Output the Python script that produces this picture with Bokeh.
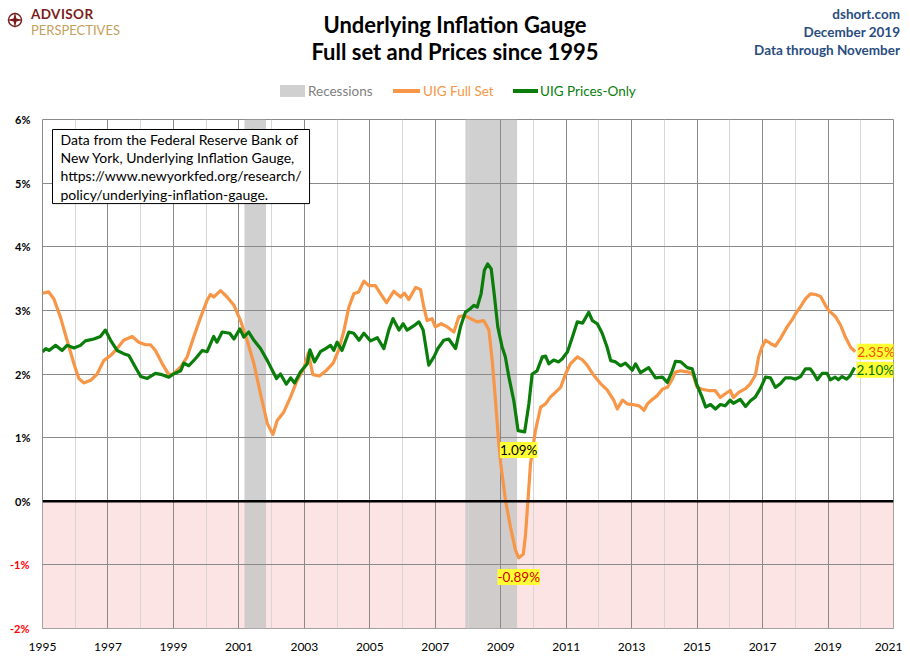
from bokeh.plotting import figure
from bokeh.layouts import column
from bokeh.models import (Range1d, FixedTicker, BoxAnnotation, Span, Label,
                          LinearAxis, Div)
from bokeh.embed import file_html
from bokeh.resources import INLINE

FONT = "Lato"

# UIG Full Set (percent, year as decimal)
full_years = [1995.00, 1995.19, 1995.35, 1995.55, 1995.75, 1995.96, 1996.11, 1996.26, 1996.47, 1996.67,
              1996.87, 1997.08, 1997.28, 1997.48, 1997.74, 1997.94, 1998.15, 1998.30, 1998.45, 1998.66,
              1998.86, 1999.00, 1999.22, 1999.42, 1999.62, 1999.83, 2000.03, 2000.13, 2000.23, 2000.44,
              2000.64, 2000.85, 2001.05, 2001.25, 2001.46, 2001.66, 2001.87, 2002.04, 2002.17, 2002.37,
              2002.58, 2002.78, 2002.98, 2003.12, 2003.26, 2003.46, 2003.68, 2003.88, 2004.05, 2004.20,
              2004.36, 2004.51, 2004.66, 2004.82, 2004.97, 2005.17, 2005.33, 2005.51, 2005.73, 2005.94,
              2006.06, 2006.19, 2006.40, 2006.55, 2006.65, 2006.75, 2006.90, 2007.00, 2007.18, 2007.37,
              2007.57, 2007.72, 2007.88, 2008.08, 2008.28, 2008.48, 2008.64, 2008.74, 2008.84, 2008.94,
              2009.00, 2009.15, 2009.30, 2009.45, 2009.55, 2009.69, 2009.76, 2009.83, 2009.91, 2010.06,
              2010.22, 2010.37, 2010.52, 2010.67, 2010.83, 2010.98, 2011.13, 2011.34, 2011.50, 2011.64,
              2011.84, 2012.05, 2012.25, 2012.46, 2012.56, 2012.72, 2012.87, 2013.03, 2013.23, 2013.38,
              2013.48, 2013.63, 2013.78, 2013.94, 2014.09, 2014.24, 2014.34, 2014.50, 2014.75, 2014.88,
              2015.00, 2015.15, 2015.35, 2015.55, 2015.71, 2015.86, 2016.01, 2016.11, 2016.27, 2016.48,
              2016.63, 2016.78, 2016.88, 2016.98, 2017.09, 2017.24, 2017.39, 2017.55, 2017.75, 2017.90,
              2018.01, 2018.16, 2018.31, 2018.46, 2018.62, 2018.77, 2018.92, 2019.02, 2019.23, 2019.38,
              2019.53, 2019.69, 2019.83]
full_vals = [3.27, 3.29, 3.18, 2.89, 2.53, 2.16, 1.93, 1.86, 1.90, 2.00,
             2.21, 2.29, 2.40, 2.53, 2.59, 2.50, 2.46, 2.46, 2.37, 2.16,
             1.99, 2.00, 2.11, 2.27, 2.58, 2.89, 3.16, 3.25, 3.21, 3.31,
             3.21, 3.08, 2.84, 2.53, 2.16, 1.69, 1.22, 1.05, 1.27, 1.40,
             1.64, 1.90, 2.08, 2.33, 1.99, 1.97, 2.06, 2.17, 2.38, 2.66,
             3.05, 3.26, 3.29, 3.46, 3.39, 3.39, 3.26, 3.12, 3.30, 3.21,
             3.27, 3.17, 3.36, 3.33, 3.05, 2.84, 2.87, 2.74, 2.79, 2.74,
             2.66, 2.90, 2.92, 2.87, 2.82, 2.84, 2.69, 2.21, 1.58, 0.91,
             0.59, 0.00, -0.41, -0.77, -0.89, -0.83, -0.51, 0.00, 0.59, 1.11,
             1.48, 1.53, 1.64, 1.71, 1.79, 2.00, 2.16, 2.27, 2.22, 2.14,
             1.98, 1.85, 1.75, 1.58, 1.45, 1.59, 1.53, 1.52, 1.50, 1.43,
             1.53, 1.60, 1.66, 1.76, 1.79, 1.92, 2.03, 2.05, 2.03, 1.98,
             1.79, 1.76, 1.74, 1.74, 1.63, 1.69, 1.74, 1.63, 1.71, 1.77,
             1.85, 1.98, 2.27, 2.42, 2.53, 2.48, 2.44, 2.56, 2.74, 2.85,
             2.95, 3.06, 3.18, 3.26, 3.25, 3.22, 3.08, 3.00, 2.90, 2.77,
             2.58, 2.42, 2.35]

# UIG Prices-Only
price_years = [1995.00, 1995.10, 1995.20, 1995.40, 1995.60, 1995.75, 1995.96, 1996.16, 1996.31, 1996.57,
               1996.77, 1996.92, 1997.08, 1997.28, 1997.48, 1997.64, 1997.80, 1998.00, 1998.20, 1998.45,
               1998.65, 1998.86, 1999.00, 1999.22, 1999.32, 1999.47, 1999.67, 1999.88, 2000.03, 2000.23,
               2000.33, 2000.49, 2000.72, 2000.85, 2001.03, 2001.15, 2001.30, 2001.46, 2001.66, 2001.87,
               2002.02, 2002.15, 2002.27, 2002.45, 2002.58, 2002.70, 2002.88, 2003.09, 2003.17, 2003.31,
               2003.49, 2003.65, 2003.80, 2003.90, 2004.00, 2004.15, 2004.36, 2004.51, 2004.67, 2004.82,
               2005.02, 2005.23, 2005.43, 2005.58, 2005.71, 2005.89, 2006.02, 2006.14, 2006.35, 2006.50,
               2006.63, 2006.80, 2006.96, 2007.08, 2007.26, 2007.41, 2007.62, 2007.78, 2007.92, 2008.08,
               2008.18, 2008.28, 2008.40, 2008.50, 2008.60, 2008.71, 2008.80, 2008.91, 2009.04, 2009.14,
               2009.25, 2009.40, 2009.53, 2009.73, 2009.86, 2009.96, 2010.11, 2010.27, 2010.37, 2010.47,
               2010.62, 2010.77, 2010.88, 2011.04, 2011.19, 2011.34, 2011.50, 2011.69, 2011.80, 2011.95,
               2012.10, 2012.25, 2012.36, 2012.51, 2012.66, 2012.81, 2013.02, 2013.12, 2013.27, 2013.52,
               2013.73, 2013.94, 2014.09, 2014.24, 2014.34, 2014.50, 2014.70, 2014.85, 2015.00, 2015.15,
               2015.26, 2015.41, 2015.56, 2015.71, 2015.86, 2016.01, 2016.11, 2016.32, 2016.48, 2016.63,
               2016.78, 2016.93, 2017.09, 2017.24, 2017.39, 2017.55, 2017.70, 2017.85, 2018.01, 2018.16,
               2018.31, 2018.46, 2018.57, 2018.67, 2018.82, 2018.97, 2019.07, 2019.22, 2019.32, 2019.42,
               2019.57, 2019.67, 2019.81]
price_vals = [2.35, 2.40, 2.37, 2.45, 2.37, 2.45, 2.41, 2.45, 2.52, 2.55,
              2.59, 2.69, 2.53, 2.37, 2.32, 2.29, 2.14, 1.96, 1.93, 2.01,
              1.99, 1.95, 2.00, 2.05, 2.17, 2.13, 2.24, 2.37, 2.35, 2.59,
              2.50, 2.66, 2.64, 2.55, 2.71, 2.58, 2.66, 2.53, 2.40, 2.21,
              2.06, 1.93, 2.00, 1.84, 1.94, 1.86, 2.03, 2.16, 2.38, 2.19,
              2.35, 2.40, 2.45, 2.37, 2.50, 2.37, 2.66, 2.64, 2.53, 2.64,
              2.52, 2.57, 2.40, 2.69, 2.87, 2.69, 2.79, 2.69, 2.76, 2.82,
              2.69, 2.14, 2.27, 2.40, 2.53, 2.55, 2.40, 2.76, 2.97, 3.03,
              3.08, 3.05, 3.26, 3.63, 3.73, 3.65, 3.26, 2.74, 2.43, 2.27,
              1.95, 1.58, 1.11, 1.09, 1.53, 2.00, 2.05, 2.27, 2.28, 2.16,
              2.22, 2.19, 2.24, 2.35, 2.58, 2.82, 2.80, 2.97, 2.84, 2.79,
              2.64, 2.42, 2.21, 2.19, 2.13, 2.17, 2.06, 2.16, 2.02, 2.10,
              1.94, 1.95, 1.87, 2.05, 2.20, 2.19, 2.10, 2.08, 1.82, 1.64,
              1.48, 1.52, 1.45, 1.52, 1.50, 1.59, 1.54, 1.60, 1.49, 1.58,
              1.64, 1.77, 1.95, 1.94, 1.79, 1.85, 1.94, 1.94, 1.92, 1.96,
              2.08, 2.08, 2.00, 1.91, 2.01, 2.01, 1.91, 1.95, 1.91, 1.96,
              1.92, 1.97, 2.10]

# NBER recessions
rec_start = [2001.17, 2007.92]
rec_end = [2001.83, 2009.50]

year_ticks = list(range(1995, 2022, 2))
year_minor = list(range(1996, 2021, 2))
pos_ticks = list(range(0, 7))
neg_ticks = [-2, -1]

ORANGE = "#f79646"
GREEN = "#0a7d0a"
GRID = "#8a8a8a"

p = figure(width=902, height=541, output_backend="svg", toolbar_location=None,
           x_range=Range1d(1995, 2021), y_range=Range1d(-2, 6), title=None,
           min_border_left=42, min_border_right=9, min_border_top=7, min_border_bottom=25)
p.background_fill_color = "white"
p.border_fill_color = "white"
p.outline_line_color = GRID

# negative zone
p.add_layout(BoxAnnotation(top=0, fill_color="#fde4e4", fill_alpha=1.0,
                           line_color=None, level="image"))

p.quad(left=rec_start, right=rec_end, bottom=-2, top=6,
       fill_color="#c8c8c8", fill_alpha=0.85, line_color=None, level="underlay")

p.xaxis.ticker = FixedTicker(ticks=year_ticks, minor_ticks=year_minor)
p.yaxis.ticker = FixedTicker(ticks=pos_ticks)
p.xgrid.grid_line_color = GRID
p.xgrid.minor_grid_line_color = "#d6d6d6"
p.ygrid.ticker = FixedTicker(ticks=neg_ticks + pos_ticks)
p.ygrid.grid_line_color = GRID

# second left axis just for the red negative labels
neg_axis = LinearAxis(ticker=FixedTicker(ticks=neg_ticks), major_label_text_color="#ff0000",
                      major_label_standoff=-17)
p.add_layout(neg_axis, "left")

for ax in (p.xaxis[0], p.yaxis[0], neg_axis):
    ax.axis_line_color = None
    ax.major_tick_line_color = None
    ax.minor_tick_line_color = None
    ax.major_tick_out = 0
    ax.major_tick_in = 0
    ax.minor_tick_out = 0
    ax.minor_tick_in = 0
    ax.major_label_text_font = FONT
p.xaxis.major_label_text_font_size = "12px"
p.xaxis.major_label_standoff = 14
p.xaxis.major_label_text_color = "black"
for ax in (p.yaxis[0], neg_axis):
    ax.major_label_text_font_size = "11px"
    ax.major_label_text_font_style = "bold"
    ax.major_label_overrides = {t: f"{t}%" for t in neg_ticks + pos_ticks}
p.yaxis[0].major_label_text_color = "black"
p.yaxis[0].major_label_standoff = 12

p.add_layout(Span(location=0, dimension="width", line_color="black", line_width=2.5))

p.line(full_years, full_vals, line_color=ORANGE, line_width=3.2, line_join="round")
p.line(price_years, price_vals, line_color=GREEN, line_width=3.2, line_join="round")


# value call-outs
def callout(x, y, color, dx, dy, align):
    p.add_layout(Label(x=x, y=y, x_offset=dx, y_offset=dy, text=f"{y:.2f}%",
                       text_align=align, text_baseline="middle", text_font=FONT,
                       text_font_size="13.5px", text_color=color,
                       background_fill_color="#ffff33", background_fill_alpha=1.0))


callout(full_years[-1], full_vals[-1], "#f05000", 2, 0, "left")
callout(price_years[-1], price_vals[-1], "#007000", 2, -2, "left")
i_lo = price_vals.index(min(price_vals))
callout(price_years[i_lo], price_vals[i_lo], "black", -6, -18, "center")
i_lo = full_vals.index(min(full_vals))
callout(full_years[i_lo], full_vals[i_lo], "#d00000", 0, -19, "center")

# note box
p.add_layout(Label(x=10, y=499, x_units="screen", y_units="screen",
                   text="Data from the Federal Reserve Bank of\nNew York, Underlying Inflation Gauge,\n"
                        "https://www.newyorkfed.org/research/\npolicy/underlying-inflation-gauge.",
                   text_align="left", text_baseline="top", text_font=FONT, text_font_size="14px",
                   text_color="black", text_line_height=1.08, background_fill_color="white",
                   border_line_color="black", border_line_width=1,
                   padding=dict(left=8, right=8, top=1, bottom=1)))

# header: logo, titles, source, legend
logo_svg = ('<svg width="16" height="16" viewBox="0 0 16 16">'
            '<circle cx="8" cy="8" r="6.5" fill="none" stroke="#7b1c1c" stroke-width="1.4"/>'
            '<polygon points="8,0 9.4,6.6 16,8 9.4,9.4 8,16 6.6,9.4 0,8 6.6,6.6" fill="#7b1c1c"/>'
            '</svg>')
header_html = f"""
<div style="position:relative;width:902px;height:112px;font-family:{FONT};">
  <div style="position:absolute;left:7px;top:12px;line-height:0;">{logo_svg}</div>
  <div style="position:absolute;left:31px;top:8px;font-size:13.5px;font-weight:bold;line-height:12px;
              height:12px;color:#7b1c1c;letter-spacing:0.4px;">ADVISOR</div>
  <div style="position:absolute;left:31px;top:25px;font-size:13px;line-height:11px;height:11px;
              color:#c4a15c;">PERSPECTIVES</div>
  <div style="position:absolute;left:0px;top:11px;width:910px;text-align:center;font-size:22px;
              font-weight:bold;line-height:27px;color:#000;">Underlying Inflation Gauge<br>
              Full set and Prices since 1995</div>
  <div style="position:absolute;left:600px;width:300px;top:5px;text-align:right;font-size:13.5px;
              font-weight:bold;line-height:18px;color:#2a4d80;">dshort.com<br>December 2019<br>
              Data through November</div>
  <div style="position:absolute;left:280px;top:85px;width:25px;height:12px;background:#d0d0d0;"></div>
  <div style="position:absolute;left:308px;top:83px;font-size:13.5px;line-height:16px;
              color:#808080;">Recessions</div>
  <div style="position:absolute;left:393px;top:89px;width:27px;height:4px;background:{ORANGE};"></div>
  <div style="position:absolute;left:423px;top:83px;font-size:13.5px;line-height:16px;
              color:{ORANGE};">UIG Full Set</div>
  <div style="position:absolute;left:513px;top:89px;width:25px;height:4px;background:{GREEN};"></div>
  <div style="position:absolute;left:540px;top:83px;font-size:13.5px;line-height:16px;
              color:{GREEN};">UIG Prices-Only</div>
</div>
"""
header = Div(text=header_html, width=902, height=112, margin=0)

page = column(header, p, spacing=0)
open("out.html", "w").write(file_html(page, INLINE))
